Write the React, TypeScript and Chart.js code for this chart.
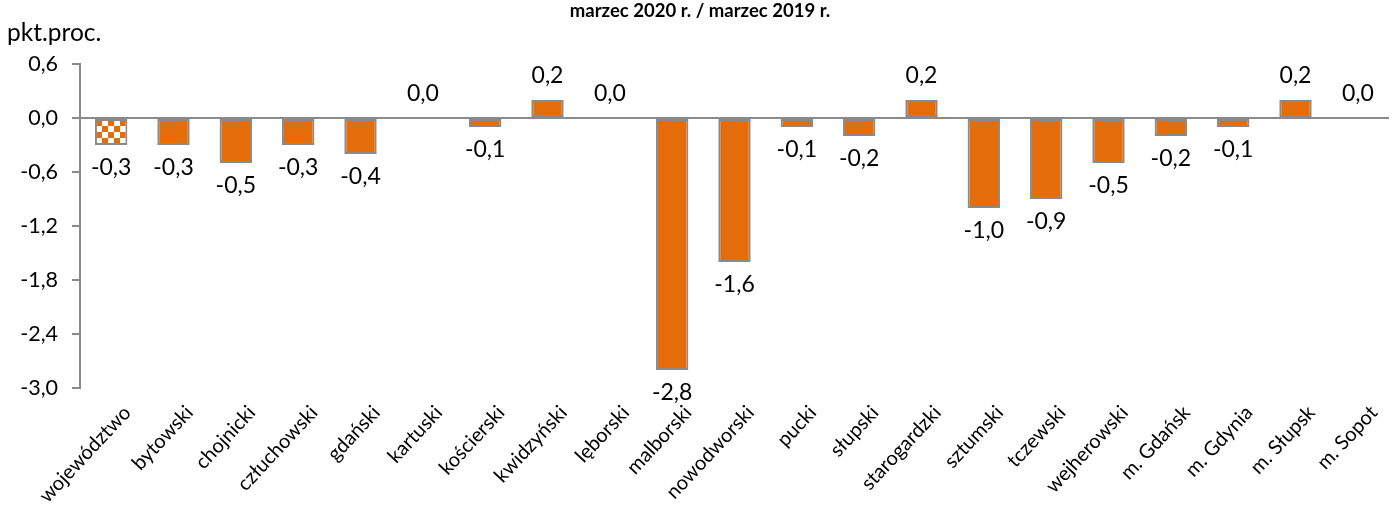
import React, { useEffect, useRef } from 'react';
import { Chart, registerables } from 'chart.js';

Chart.register(...registerables);

const categories = [
  'województwo', 'bytowski', 'chojnicki', 'człuchowski', 'gdański', 'kartuski',
  'kościerski', 'kwidzyński', 'lęborski', 'malborski', 'nowodworski', 'pucki',
  'słupski', 'starogardzki', 'sztumski', 'tczewski', 'wejherowski', 'm. Gdańsk',
  'm. Gdynia', 'm. Słupsk', 'm. Sopot',
];
const changeValues = [
  -0.3, -0.3, -0.5, -0.3, -0.4, 0.0, -0.1, 0.2, 0.0, -2.8, -1.6, -0.1,
  -0.2, 0.2, -1.0, -0.9, -0.5, -0.2, -0.1, 0.2, 0.0,
];
const yTickValues = [0.6, 0.0, -0.6, -1.2, -1.8, -2.4, -3.0];
const titleText = 'marzec 2020 r. / marzec 2019 r.';
const unitLabel = 'pkt.proc.';

const FONT = 'Lato, "Open Sans", sans-serif';
const ORANGE = '#E46C0A';
const GRAY = '#8A8A8A';

const fmt = (v: number) => (Math.abs(v) < 1e-9 ? 0 : v).toFixed(1).replace('.', ',');

function makePattern(ctx: CanvasRenderingContext2D): CanvasPattern | string {
  const c = document.createElement('canvas');
  c.width = 12;
  c.height = 12;
  const p = c.getContext('2d');
  if (!p) return ORANGE;
  p.fillStyle = '#ffffff';
  p.fillRect(0, 0, 12, 12);
  p.fillStyle = ORANGE;
  p.fillRect(0, 0, 6, 6);
  p.fillRect(6, 6, 6, 6);
  return ctx.createPattern(c, 'repeat') || ORANGE;
}

const textPlugin = {
  id: 'textPlugin',
  afterDraw(chart: any) {
    const ctx = chart.ctx as CanvasRenderingContext2D;
    ctx.save();
    ctx.fillStyle = '#000';
    ctx.font = `bold 18.5px ${FONT}`;
    ctx.textAlign = 'center';
    ctx.textBaseline = 'middle';
    ctx.fillText(titleText, 700, 11);
    ctx.font = `24.5px ${FONT}`;
    ctx.textAlign = 'left';
    ctx.fillText(unitLabel, 7, 33);
    ctx.font = `23px ${FONT}`;
    ctx.textAlign = 'center';
    const meta = chart.getDatasetMeta(0);
    meta.data.forEach((bar: any, i: number) => {
      const v = changeValues[i];
      const y = v < 0 ? bar.y + 23 : bar.y - 24;
      ctx.fillText(fmt(v), bar.x, y);
    });
    ctx.restore();
  },
};

export default function App() {
  const ref = useRef<HTMLCanvasElement | null>(null);

  useEffect(() => {
    const canvas = ref.current;
    if (!canvas) return;
    const ctx = canvas.getContext('2d');
    if (!ctx) return;
    const pattern = makePattern(ctx);
    const colors = changeValues.map((_, i) => (i === 0 ? pattern : ORANGE));

    const chart = new Chart(canvas, {
      type: 'bar',
      data: {
        labels: categories,
        datasets: [
          {
            data: changeValues,
            backgroundColor: colors as any,
            borderColor: GRAY,
            borderWidth: 2,
            borderSkipped: false,
            categoryPercentage: 1,
            barPercentage: 0.52,
          },
        ],
      },
      options: {
        responsive: false,
        animation: false,
        events: [],
        layout: { padding: { top: 64, right: 11, left: 0, bottom: 0 } },
        plugins: {
          legend: { display: false },
          title: { display: false },
          tooltip: { enabled: false },
        },
        scales: {
          x: {
            grid: { display: false },
            border: { display: false },
            ticks: {
              autoSkip: false,
              minRotation: 47,
              maxRotation: 47,
              color: '#000',
              padding: 5,
              labelOffset: 16,
              font: { family: FONT, size: 20 },
            },
            afterFit(scale: any) {
              scale.height = 120;
              scale.paddingLeft = 0;
              scale.paddingRight = 0;
            },
          },
          y: {
            min: -3.0,
            max: 0.6,
            afterBuildTicks(scale: any) {
              scale.ticks = yTickValues.map((v) => ({ value: v }));
            },
            border: { display: true, color: GRAY, width: 2 },
            grid: {
              color: (c: any) => (c.tick && Math.abs(c.tick.value) < 1e-9 ? GRAY : 'rgba(0,0,0,0)'),
              lineWidth: 2,
              tickColor: GRAY,
              tickLength: 8,
              drawTicks: true,
            },
            ticks: {
              color: '#000',
              padding: 14,
              font: { family: FONT, size: 21.5 },
              callback: (v: any) => fmt(Number(v)),
            },
            afterFit(scale: any) {
              scale.width = 80;
            },
          },
        },
      },
      plugins: [textPlugin],
    });
    return () => chart.destroy();
  }, []);

  return (
    <div style={{ position: 'fixed', left: 0, top: 0, width: 1400, height: 508, background: '#fff' }}>
      <canvas ref={ref} width={1400} height={508} />
    </div>
  );
}
